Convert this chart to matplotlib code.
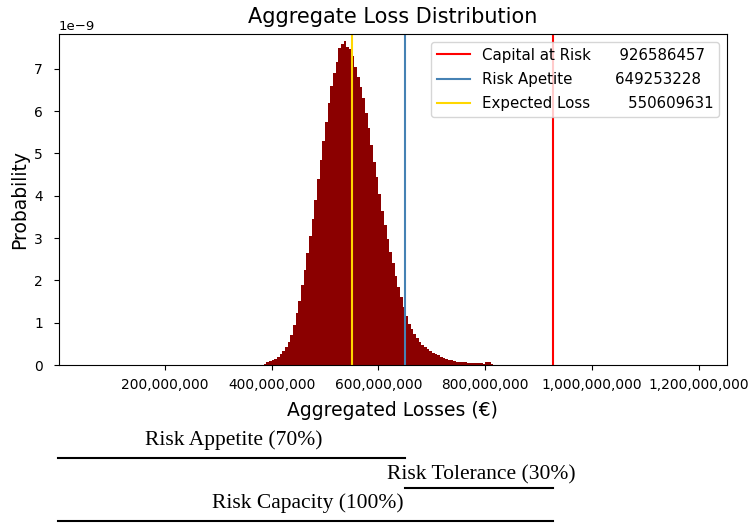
import numpy as np
import matplotlib
matplotlib.use("Agg")
import matplotlib.pyplot as plt
import matplotlib.transforms as mtransforms
from matplotlib.ticker import FuncFormatter

# simulated aggregate losses, binned (5M wide bins), density in units of 1e-9
bin_start = 385e6
bin_width = 5e6
density = [
    0.03, 0.06, 0.09, 0.11, 0.14, 0.18, 0.25, 0.32, 0.42, 0.55,
    0.72, 0.95, 1.22, 1.52, 1.88, 2.25, 2.65, 3.05, 3.45, 3.90,
    4.40, 4.85, 5.30, 5.75, 6.20, 6.60, 6.90, 7.15, 7.50, 7.58,
    7.65, 7.52, 7.47, 7.30, 7.05, 6.80, 6.58, 6.30, 5.95, 5.60,
    5.20, 4.80, 4.45, 4.05, 3.65, 3.30, 2.98, 2.68, 2.40, 2.10,
    1.85, 1.60, 1.38, 1.15, 0.97, 0.85, 0.73, 0.63, 0.54, 0.47,
    0.42, 0.38, 0.33, 0.29, 0.27, 0.23, 0.20, 0.17, 0.14, 0.12,
    0.11, 0.09, 0.08, 0.08, 0.06, 0.06, 0.05, 0.05, 0.05, 0.04,
    0.04, 0.04, 0.03, 0.06, 0.06, 0.03,
]

capital_at_risk = 926586457
risk_appetite = 649253228
expected_loss = 550609631

xticks = [200e6, 400e6, 600e6, 800e6, 1000e6, 1200e6]

heights = np.array(density) * 1e-9
edges = bin_start + bin_width * np.arange(len(density) + 1)

fig = plt.figure(figsize=(7.52, 5.24), dpi=100)
ax = fig.add_axes([0.0785, 0.3034, 0.888, 0.6316])

ax.stairs(heights, edges, fill=True, color="darkred", lw=0)

ax.axvline(capital_at_risk, color="red", lw=1.5,
           label="Capital at Risk      %d" % capital_at_risk)
ax.axvline(risk_appetite, color="steelblue", lw=1.5,
           label="Risk Apetite         %d" % risk_appetite)
ax.axvline(expected_loss, color="gold", lw=1.5,
           label="Expected Loss        %d" % expected_loss)

ax.set_xlim(2e6, 1.252e9)
ax.set_ylim(0, 7.82e-9)
ax.set_xticks(xticks)
ax.xaxis.set_major_formatter(FuncFormatter(lambda v, p: "{:,.0f}".format(v)))
ax.tick_params(axis="x", labelsize=9.9, pad=6)
ax.tick_params(axis="y", labelsize=9.9, pad=8)
ax.yaxis.get_offset_text().set_fontsize(9.5)

ax.set_title("Aggregate Loss Distribution", fontsize=15, pad=8)
ax.set_xlabel("Aggregated Losses (€)", fontsize=13.5, labelpad=6)
ax.set_ylabel("Probability", fontsize=13.5, labelpad=4)
ax.legend(loc="upper right", fontsize=10.8, labelspacing=0.62,
          handlelength=2.2)

# risk budget bars below the axis: x in data units, y in figure units
trans = mtransforms.blended_transform_factory(ax.transData, fig.transFigure)
bands = [
    ("Risk Appetite (70%)", 0, risk_appetite, 0.126, 0.160),
    ("Risk Tolerance (30%)", risk_appetite, capital_at_risk, 0.068, 0.0935),
    ("Risk Capacity (100%)", 0, capital_at_risk, 0.006, 0.040),
]
for text, x0, x1, y_line, y_text in bands:
    ax.plot([x0, x1], [y_line, y_line], color="black", lw=1.5,
            transform=trans, clip_on=False)
    ax.text((x0 + x1) / 2 + 4e6, y_text, text, transform=trans,
            ha="center", va="center", family="Liberation Serif", fontsize=15.5)

fig.savefig("out.png", dpi=100)
